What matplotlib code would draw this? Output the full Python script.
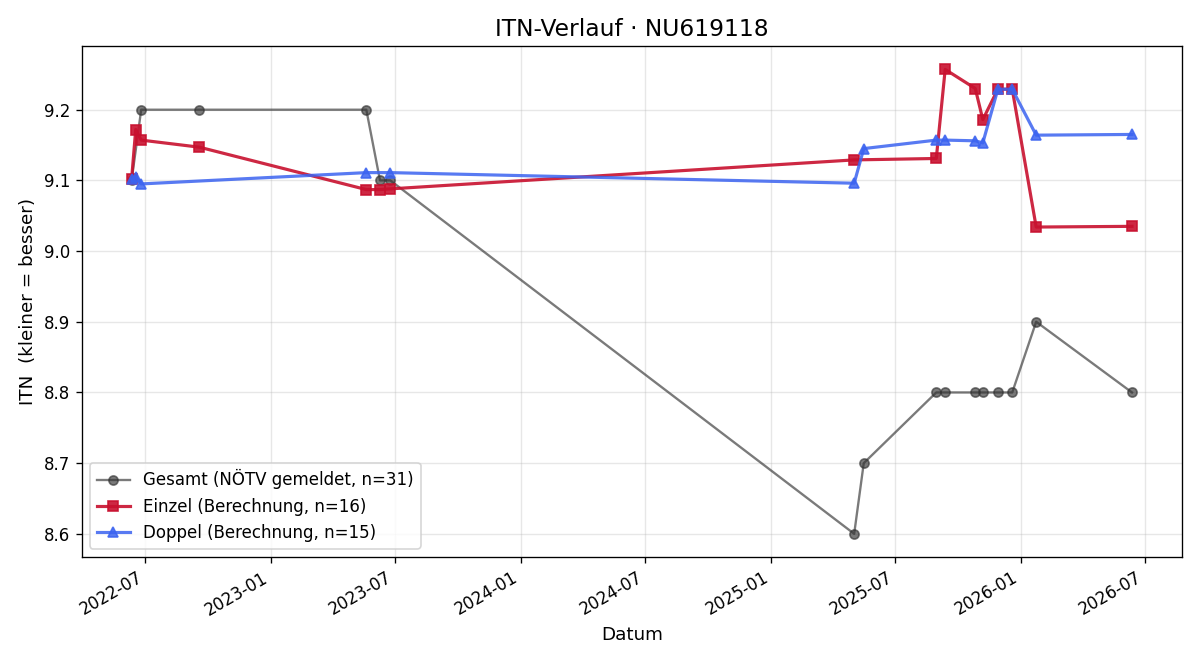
import matplotlib
matplotlib.use("Agg")
import matplotlib.pyplot as plt
import matplotlib.dates as mdates
import pandas as pd

# Gesamt (reported by NÖTV)
gesamt_dates = [
    "2022-06-11", "2022-06-25", "2022-09-18", "2023-05-20", "2023-06-09",
    "2023-06-24", "2025-05-02", "2025-05-16", "2025-08-30", "2025-09-12",
    "2025-10-26", "2025-11-06", "2025-11-28", "2025-12-19", "2026-01-23",
    "2026-06-12",
]
gesamt_itn = [9.1, 9.2, 9.2, 9.2, 9.1, 9.1, 8.6, 8.7, 8.8, 8.8,
              8.8, 8.8, 8.8, 8.8, 8.9, 8.8]

# Einzel (calculated)
einzel_dates = [
    "2022-06-11", "2022-06-17", "2022-06-25", "2022-09-18", "2023-05-20",
    "2023-06-09", "2023-06-24", "2025-05-02", "2025-08-30", "2025-09-12",
    "2025-10-26", "2025-11-06", "2025-11-28", "2025-12-19", "2026-01-23",
    "2026-06-12",
]
einzel_itn = [9.102, 9.172, 9.157, 9.147, 9.087, 9.087, 9.088, 9.129,
              9.131, 9.257, 9.230, 9.186, 9.229, 9.229, 9.034, 9.035]

# Doppel (calculated)
doppel_dates = [
    "2022-06-11", "2022-06-17", "2022-06-25", "2023-05-20", "2023-06-24",
    "2025-05-02", "2025-05-16", "2025-08-30", "2025-09-12", "2025-10-26",
    "2025-11-06", "2025-11-28", "2025-12-19", "2026-01-23", "2026-06-12",
]
doppel_itn = [9.102, 9.105, 9.095, 9.111, 9.111, 9.096, 9.145, 9.157,
              9.157, 9.156, 9.153, 9.229, 9.229, 9.164, 9.165]

fig, ax = plt.subplots(figsize=(10, 5.5), dpi=120)

ax.plot(pd.to_datetime(gesamt_dates), gesamt_itn, color="#333333", alpha=0.65,
        marker="o", markersize=5.5, linewidth=1.4,
        label="Gesamt (NÖTV gemeldet, n=31)")
ax.plot(pd.to_datetime(einzel_dates), einzel_itn, color="#c8102e", alpha=0.9,
        marker="s", markersize=6, linewidth=1.9,
        label="Einzel (Berechnung, n=16)")
ax.plot(pd.to_datetime(doppel_dates), doppel_itn, color="#3b63f0", alpha=0.85,
        marker="^", markersize=6, linewidth=1.9,
        label="Doppel (Berechnung, n=15)")

ax.set_title("ITN-Verlauf · NU619118", fontsize=14)
ax.set_xlabel("Datum", fontsize=11)
ax.set_ylabel("ITN  (kleiner = besser)", fontsize=11)
ax.grid(True, alpha=0.3)
ax.xaxis.set_major_locator(mdates.MonthLocator(bymonth=[1, 7]))
ax.xaxis.set_major_formatter(mdates.DateFormatter("%Y-%m"))
ax.legend(loc="lower left", fontsize=10)
fig.autofmt_xdate()

fig.subplots_adjust(left=0.068, right=0.985, top=0.93, bottom=0.156)
fig.savefig("out.png", dpi=120)
